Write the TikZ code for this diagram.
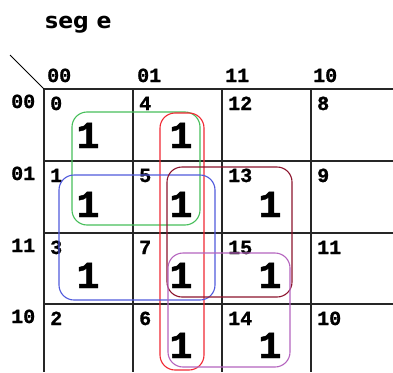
\documentclass[tikz,border=0pt]{standalone}
\usepackage{fontspec}
\newfontfamily\kmono{Liberation Mono}[BoldFeatures={FakeBold=1.2}]
\newfontfamily\ktitle{DejaVu Sans}
\definecolor{kgreen}{RGB}{70,190,90}
\definecolor{kred}{RGB}{240,40,50}
\definecolor{kblue}{RGB}{80,90,220}
\definecolor{kmaroon}{RGB}{140,20,45}
\definecolor{kpurple}{RGB}{180,100,190}

\begin{document}
\begin{tikzpicture}[x=1pt, y=-1pt,
  gridline/.style={line width=1.4pt, black!85},
  lbl/.style={font=\kmono\bfseries\fontsize{20}{20}\selectfont, anchor=base west, inner sep=0pt},
  one/.style={font=\kmono\bfseries\fontsize{38}{38}\selectfont, anchor=base, inner sep=0pt},
  grp/.style={line width=1.1pt, rounded corners=15pt},
]
  \useasboundingbox (0,0) rectangle (393,372);
  \node[font=\ktitle\bfseries\fontsize{22}{22}\selectfont, anchor=base west, inner sep=0pt] (title) at (45,28) {seg e};

  % map grid, open to the right and bottom
  \foreach \y in {89,161,233,304} \draw[gridline] (44,\y) -- (393,\y);
  \foreach \x in {44,133,222,311} \draw[gridline] (\x,89) -- (\x,372);
  \draw[line width=1pt] (10,55) -- (44,89);

  % column (AB) and row (CD) labels
  \node[lbl] (col00) at (47,82) {00};
  \node[lbl] (col01) at (137,82) {01};
  \node[lbl] (col11) at (225,82) {11};
  \node[lbl] (col10) at (313,82) {10};
  \node[lbl] (row00) at (11,108) {00};
  \node[lbl] (row01) at (11,180) {01};
  \node[lbl] (row11) at (11,252) {11};
  \node[lbl] (row10) at (11,323) {10};

  % cell indices
  \node[lbl] (c0)  at (50,110)  {0};  \node[lbl] (c4)  at (139,110) {4};
  \node[lbl] (c12) at (228,110) {12}; \node[lbl] (c8)  at (317,110) {8};
  \node[lbl] (c1)  at (50,182)  {1};  \node[lbl] (c5)  at (139,182) {5};
  \node[lbl] (c13) at (228,182) {13}; \node[lbl] (c9)  at (317,182) {9};
  \node[lbl] (c3)  at (50,254)  {3};  \node[lbl] (c7)  at (139,254) {7};
  \node[lbl] (c15) at (228,254) {15}; \node[lbl] (c11) at (317,254) {11};
  \node[lbl] (c2)  at (50,325)  {2};  \node[lbl] (c6)  at (139,325) {6};
  \node[lbl] (c14) at (228,325) {14}; \node[lbl] (c10) at (317,325) {10};

  % minterms
  \node[one] (m0)  at (88,148)  {1}; \node[one] (m4)  at (181,148) {1};
  \node[one] (m1)  at (88,217)  {1}; \node[one] (m5)  at (181,217) {1};
  \node[one] (m13) at (270,217) {1};
  \node[one] (m3)  at (88,288)  {1}; \node[one] (m7)  at (181,288) {1};
  \node[one] (m15) at (270,288) {1};
  \node[one] (m6)  at (181,358) {1}; \node[one] (m14) at (270,358) {1};

  % groups
  \draw[grp, kgreen]  (72,112) rectangle (200,225);
  \draw[grp, kred]    (160,113) rectangle (204,370);
  \draw[grp, kblue]   (59,175) rectangle (215,300);
  \draw[grp, kmaroon] (167,167) rectangle (292,297);
  \draw[grp, kpurple] (168,253) rectangle (290,367);
\end{tikzpicture}
\end{document}
